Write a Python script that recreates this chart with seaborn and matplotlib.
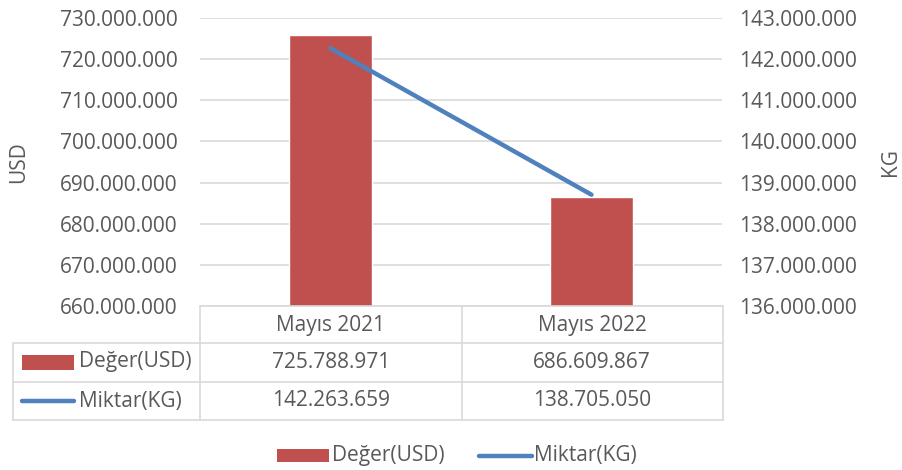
import matplotlib
matplotlib.use("Agg")
import matplotlib.pyplot as plt
import matplotlib.patches as mpatches
import matplotlib.lines as mlines
import seaborn as sns
import pandas as pd
from matplotlib.ticker import FuncFormatter, MultipleLocator

categories = ["Mayıs 2021", "Mayıs 2022"]
usd_values = [725788971, 686609867]
kg_values = [142263659, 138705050]
series_names = ["Değer(USD)", "Miktar(KG)"]

sns.set_theme(style="white")
plt.rcParams['font.family'] = ['Open Sans', 'DejaVu Sans']

TXT = "#595959"
RED = "#C0504D"
BLUE = "#4F81BD"
GRID = "#D9D9D9"
FS = 15

def fmt(v, pos=None):
    return f"{int(round(v)):,}".replace(",", ".")

W, H = 902, 470
fig = plt.figure(figsize=(W / 100, H / 100), dpi=100)
ax = fig.add_axes([200 / W, 1 - 306 / H, 522 / W, 288 / H])

df = pd.DataFrame({"cat": categories, "usd": usd_values, "kg": kg_values})
sns.barplot(data=df, x="cat", y="usd", color=RED, saturation=1, width=0.315, ax=ax, zorder=3)
ax.set_ylim(660e6, 730e6)
ax.yaxis.set_major_locator(MultipleLocator(10e6))
ax.yaxis.set_major_formatter(FuncFormatter(fmt))
ax.grid(axis="y", color=GRID, linewidth=1.2, zorder=0)
ax.set_axisbelow(True)
for s in ax.spines.values():
    s.set_visible(False)
ax.tick_params(axis="y", length=0, pad=16, labelsize=FS, labelcolor=TXT)
ax.set_xticks([])
ax.set_xlabel("")
ax.set_ylabel("USD", fontsize=FS, color=TXT, labelpad=22)
ax.set_xlim(-0.5, 1.5)

ax2 = ax.twinx()
sns.lineplot(x=list(range(len(categories))), y=kg_values, color=BLUE, linewidth=3.2, ax=ax2,
             solid_capstyle="round")
ax2.set_ylim(136e6, 143e6)
ax2.yaxis.set_major_locator(MultipleLocator(1e6))
ax2.yaxis.set_major_formatter(FuncFormatter(fmt))
for s in ax2.spines.values():
    s.set_visible(False)
ax2.tick_params(axis="y", length=0, pad=12, labelsize=FS, labelcolor=TXT)
ax2.set_ylabel("KG", fontsize=FS, color=TXT, labelpad=17)
ax2.set_xlim(-0.5, 1.5)

# data table
def fx(px):
    return px / W

def fy(py):
    return 1 - py / H

lw = 1.2
fig.add_artist(mlines.Line2D([fx(200), fx(723)], [fy(306), fy(306)], color=GRID, lw=lw))
for yy in [343, 382, 420]:
    fig.add_artist(mlines.Line2D([fx(13), fx(723)], [fy(yy), fy(yy)], color=GRID, lw=lw))
fig.add_artist(mlines.Line2D([fx(13), fx(13)], [fy(343), fy(420)], color=GRID, lw=lw))
for xx in [200, 462, 723]:
    fig.add_artist(mlines.Line2D([fx(xx), fx(xx)], [fy(306), fy(420)], color=GRID, lw=lw))

col_centers = [331, 592]
for c, cat in zip(col_centers, categories):
    fig.text(fx(c), fy(325), cat, ha="center", va="center", fontsize=FS, color=TXT)
for c, v in zip(col_centers, usd_values):
    fig.text(fx(c), fy(362), fmt(v), ha="center", va="center", fontsize=FS, color=TXT)
for c, v in zip(col_centers, kg_values):
    fig.text(fx(c), fy(401), fmt(v), ha="center", va="center", fontsize=FS, color=TXT)

fig.add_artist(mpatches.Rectangle((fx(22), fy(370)), fx(74) - fx(22), fy(355) - fy(370),
                                  color=RED, lw=0))
fig.text(fx(79), fy(362), series_names[0], ha="left", va="center", fontsize=FS, color=TXT)
fig.add_artist(mlines.Line2D([fx(22), fx(74)], [fy(401), fy(401)], color=BLUE, lw=3.2,
                             solid_capstyle="round"))
fig.text(fx(79), fy(401), series_names[1], ha="left", va="center", fontsize=FS, color=TXT)

# bottom legend
fig.add_artist(mpatches.Rectangle((fx(277), fy(462)), fx(329) - fx(277), fy(449) - fy(462),
                                  color=RED, lw=0))
fig.text(fx(332), fy(456), series_names[0], ha="left", va="center", fontsize=FS, color=TXT)
fig.add_artist(mlines.Line2D([fx(479), fx(532)], [fy(456), fy(456)], color=BLUE, lw=3.2,
                             solid_capstyle="round"))
fig.text(fx(534), fy(456), series_names[1], ha="left", va="center", fontsize=FS, color=TXT)

fig.savefig("out.png", dpi=100)
